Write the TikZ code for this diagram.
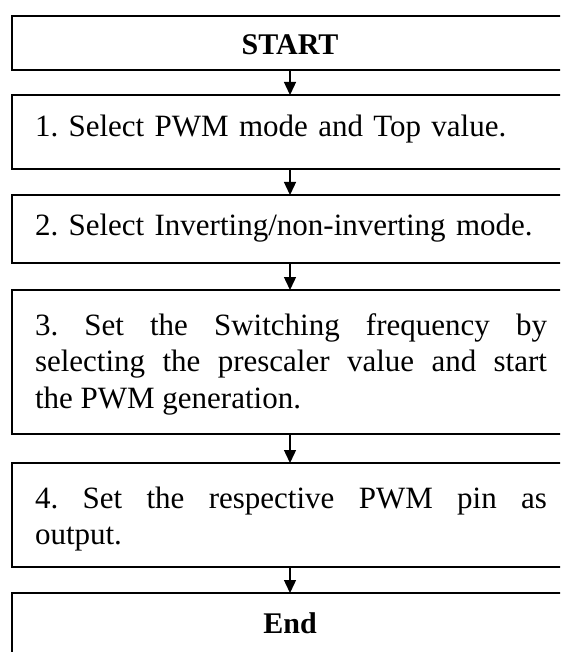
\documentclass[tikz,border=0pt]{standalone}
\usepackage{fontspec}
\setmainfont{Liberation Serif}
\usetikzlibrary{arrows.meta}
\frenchspacing
\begin{document}
\begin{tikzpicture}[x=1pt,y=-1pt,
  stepbox/.style={draw=black, line width=2pt, rectangle, inner sep=0pt, outer sep=0pt,
    minimum width=556pt, anchor=north west},
  steptext/.style={inner sep=0pt, outer sep=0pt, anchor=base west,
    font=\fontsize{31}{36.5}\selectfont\frenchspacing, text width=512pt},
  termtext/.style={inner sep=0pt, outer sep=0pt, anchor=base,
    font=\fontsize{30}{36.5}\selectfont\bfseries},
  flow/.style={line width=1.4pt, -{Triangle[width=12pt,length=13pt]}}]
\useasboundingbox (0,0) rectangle (560,652);
\fill[white] (0,0) rectangle (560,652);
\begin{scope}
\clip (0,0) rectangle (560,652);
% boxes of the flow, top to bottom
\node[stepbox, minimum height=54pt]  (start) at (12,16)  {};
\node[stepbox, minimum height=74pt]  (s1)    at (12,95)  {};
\node[stepbox, minimum height=68pt]  (s2)    at (12,195) {};
\node[stepbox, minimum height=144pt] (s3)    at (12,290) {};
\node[stepbox, minimum height=104pt] (s4)    at (12,463) {};
\node[stepbox, minimum height=90pt]  (end)   at (12,593) {};
% texts
\node[termtext] (tstart) at (290,55) {START};
\node[steptext, align=left] (t1) at (35,137) {1. Select PWM mode and Top value.};
\node[steptext, align=left] (t2) at (35,235) {2. Select Inverting/non-inverting mode.};
\node[steptext, align=justify] (t3) at (35,335) {3. Set the Switching frequency by\linebreak
  selecting the prescaler value and start\linebreak the PWM generation.};
\node[steptext, align=justify] (t4) at (35,508) {4. Set the respective PWM pin as\linebreak output.};
\node[termtext] (tend) at (290,633) {End};
% connectors
\draw[flow] (start.south) -- (s1.north);
\draw[flow] (s1.south) -- (s2.north);
\draw[flow] (s2.south) -- (s3.north);
\draw[flow] (s3.south) -- (s4.north);
\draw[flow] (s4.south) -- (end.north);
\end{scope}
\end{tikzpicture}
\end{document}
